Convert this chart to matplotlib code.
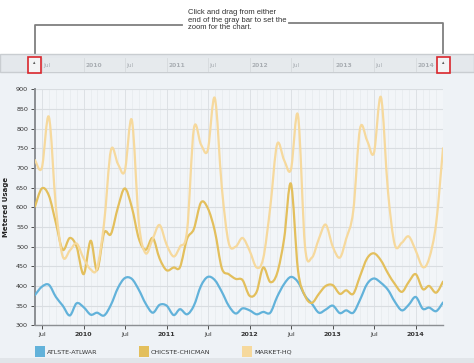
import matplotlib
matplotlib.use("Agg")
import matplotlib.pyplot as plt
import matplotlib.dates as mdates
from matplotlib.path import Path
from matplotlib.patches import PathPatch, Rectangle
import numpy as np
import pandas as pd

# monthly readings, Jun 2009 - May 2014
months = pd.date_range("2009-06-01", periods=60, freq="MS")

atlwar = [377, 398, 403, 372, 350, 325, 356, 346, 327, 332,
          325, 352, 395, 420, 418, 390, 355, 332, 352, 350,
          326, 341, 328, 350, 400, 423, 415, 385, 350, 330,
          343, 338, 328, 334, 332, 372, 405, 423, 410, 375,
          355, 332, 340, 350, 331, 338, 332, 365, 405, 419,
          408, 390, 360, 338, 352, 372, 342, 345, 336, 358]

chicman = [602, 648, 630, 560, 492, 522, 500, 430, 515, 440,
           535, 532, 600, 648, 600, 520, 492, 522, 470, 440,
           447, 448, 520, 545, 612, 598, 540, 445, 430, 418,
           415, 375, 385, 447, 410, 432, 520, 660, 440, 375,
           357, 380, 400, 402, 380, 389, 380, 425, 470, 483,
           465, 432, 405, 385, 410, 430, 392, 400, 383, 411]

market = [720, 700, 830, 600, 475, 490, 508, 470, 442, 445,
          560, 745, 710, 692, 822, 560, 483, 520, 555, 505,
          475, 500, 540, 800, 760, 745, 878, 650, 510, 500,
          522, 490, 447, 470, 600, 760, 720, 696, 834, 500,
          472, 520, 556, 500, 472, 520, 590, 800, 770, 738,
          880, 640, 505, 510, 526, 490, 448, 470, 560, 750]

series = [("ATLSTE-ATLWAR", atlwar, "#62b2da"),
          ("CHICSTE-CHICMAN", chicman, "#e3bf5c"),
          ("MARKET-HQ", market, "#f6d99d")]

tick_dates = pd.date_range("2009-07-01", "2014-01-01", freq="6MS")
tick_labels = [d.strftime("%Y") if d.month == 1 else "Jul" for d in tick_dates]

W, H = 474, 363
fig = plt.figure(figsize=(W / 100, H / 100), dpi=100)
fig.patch.set_facecolor("white")


def fx(px):
    return px / W


def fy(py):
    return 1 - py / H


def smooth_path(x, y):
    # catmull-rom through the points, drawn as cubic bezier segments
    x = np.asarray(x, float)
    y = np.asarray(y, float)
    verts = [(x[0], y[0])]
    codes = [Path.MOVETO]
    n = len(x)
    for i in range(n - 1):
        x0, y0 = (x[i - 1], y[i - 1]) if i > 0 else (x[i], y[i])
        x3, y3 = (x[i + 2], y[i + 2]) if i + 2 < n else (x[i + 1], y[i + 1])
        c1 = (x[i] + (x[i + 1] - x0) / 6, y[i] + (y[i + 1] - y0) / 6)
        c2 = (x[i + 1] - (x3 - x[i]) / 6, y[i + 1] - (y3 - y[i]) / 6)
        verts += [c1, c2, (x[i + 1], y[i + 1])]
        codes += [Path.CURVE4] * 3
    return Path(verts, codes)


def bg_rect(x0, y0, x1, y1, **kw):
    r = Rectangle((fx(x0), fy(y1)), fx(x1) - fx(x0), fy(y0) - fy(y1),
                  transform=fig.transFigure, zorder=-5, **kw)
    fig.add_artist(r)
    return r


# panel background below the instruction text
bg_rect(0, 54, 474, 363, facecolor="#eef2f6", edgecolor="none")
bg_rect(0, 54, 474, 72, facecolor="#e4e8ec", edgecolor="#c9cdd1", lw=1)
bg_rect(0, 358, 474, 363, facecolor="#e1e5e9", edgecolor="none")

# instruction text and connector lines
fig.text(fx(188), fy(9), "Click and drag from either\nend of the gray bar to set the\nzoom for the chart.",
         fontsize=5.5, color="#333333", va="top", ha="left", family="Liberation Sans", linespacing=1.1)
fig.add_artist(plt.Line2D([fx(35), fx(35), fx(182)], [fy(53), fy(25), fy(25)],
                          transform=fig.transFigure, color="#7f7f7f", lw=1.3))
fig.add_artist(plt.Line2D([fx(289), fx(443), fx(443)], [fy(23), fy(23), fy(53)],
                          transform=fig.transFigure, color="#7f7f7f", lw=1.3))

# navigator bar
nav = fig.add_axes([fx(35), fy(72), fx(443) - fx(35), fy(58) - fy(72)])
nav.set_facecolor("#e6eaed")
nav.set_xlim(months[0], months[-1])
nav.set_ylim(0, 1)
for s in nav.spines.values():
    s.set_visible(False)
nav.set_xticks(tick_dates)
nav.set_xticklabels([])
nav.tick_params(length=0)
nav.set_yticks([])
nav.grid(axis="x", color="#d6dadd", lw=0.6)
for d, lab in zip(tick_dates, tick_labels):
    nav.text(d + pd.Timedelta(days=5 if lab == "Jul" else 10), 0.45, lab, fontsize=4.3,
             color="#a9aeb3", va="center", ha="left",
             fontweight="bold" if lab != "Jul" else "normal")
for px in (34, 443):
    fig.add_artist(Rectangle((fx(px - 6.5), fy(73)), fx(13), fy(57) - fy(73),
                             transform=fig.transFigure, facecolor="#f3f4f5",
                             edgecolor="#d9262c", lw=1.2, zorder=5))
    fig.text(fx(px), fy(63), "\u25b4", fontsize=3.5, color="#555555", ha="center", va="center", zorder=6)

# main chart
ax = fig.add_axes([fx(35), fy(325.3), fx(443) - fx(35), fy(89.3) - fy(325.3)])
ax.set_facecolor("#f2f5f8")
xnum = mdates.date2num(months)
for name, vals, col in series:
    ax.add_patch(PathPatch(smooth_path(xnum, vals), facecolor="none", edgecolor=col,
                           lw=1.6, capstyle="round", joinstyle="round", zorder=3))
ax.set_xlim(xnum[0], xnum[-1])
ax.set_ylim(300, 900)
ax.set_yticks(range(300, 901, 50))
ax.set_xticks(mdates.date2num(tick_dates))
ax.set_xticklabels(tick_labels)
ax.set_xticks(xnum, minor=True)
for lab in ax.get_xticklabels():
    if lab.get_text() != "Jul":
        lab.set_fontweight("bold")
ax.tick_params(axis="both", labelsize=4.6, colors="#333333", length=3, width=0.6)
ax.tick_params(axis="x", which="minor", length=0)
ax.tick_params(axis="y", pad=2)
ax.tick_params(axis="x", pad=2)
ax.grid(axis="y", color="#d9dde1", lw=0.8)
ax.grid(axis="x", which="major", color="#dde1e5", lw=0.7)
ax.grid(axis="x", which="minor", color="#e6eaed", lw=0.5)
ax.set_axisbelow(True)
for side in ("top", "right"):
    ax.spines[side].set_visible(False)
ax.spines["left"].set_color("#8c8f93")
ax.spines["left"].set_linewidth(1.4)
ax.spines["bottom"].set_color("#8c8f93")
ax.spines["bottom"].set_linewidth(1.0)
ax.set_ylabel("Metered Usage", fontsize=5, fontweight="bold", color="#222222")
ax.yaxis.set_label_coords((9 - 35) / 408, 0.5)

# legend row
for (name, vals, col), px in zip(series, (35, 139, 242)):
    fig.add_artist(Rectangle((fx(px), fy(357)), fx(10), fy(346) - fy(357),
                             transform=fig.transFigure, facecolor=col, edgecolor="none"))
    fig.text(fx(px + 12), fy(352), name, fontsize=4.6, color="#333333", va="center", ha="left")

fig.savefig("out.png", dpi=100, facecolor=fig.get_facecolor())
